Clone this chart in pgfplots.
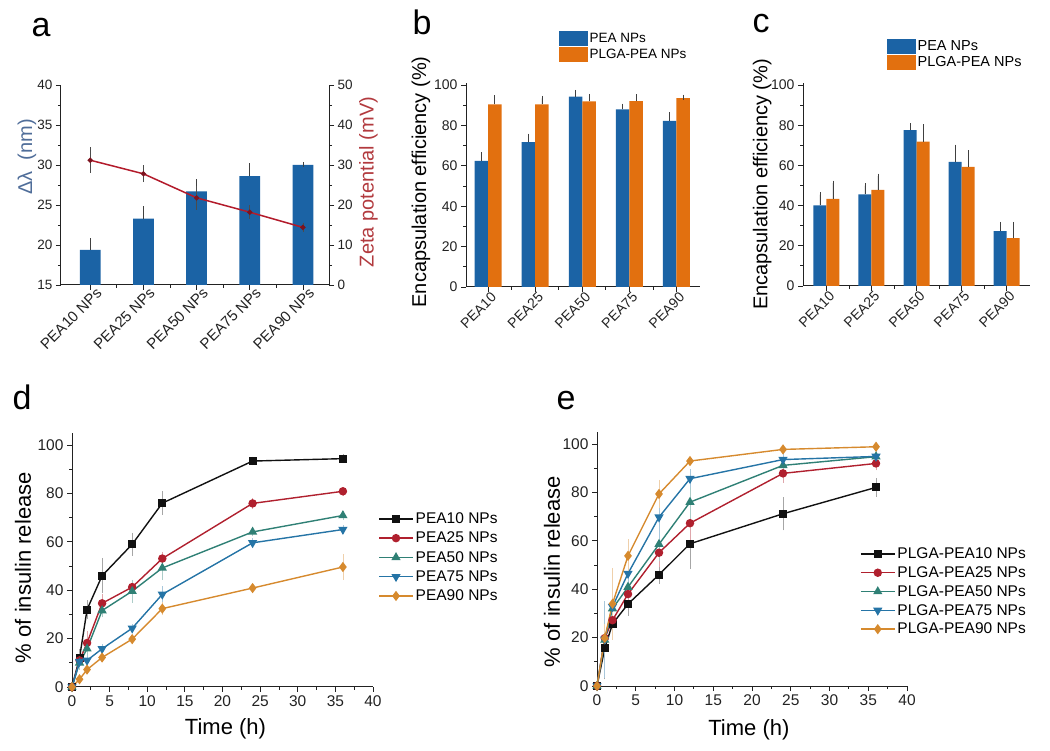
\documentclass[border=0pt]{standalone}
\usepackage{pgfplots}
\pgfplotsset{compat=1.18}
\usepackage{pgfplotstable}
\usepackage{fontspec}
\setmainfont{Liberation Sans}

\definecolor{barblue}{HTML}{1B63A5}
\definecolor{barorange}{HTML}{E2700F}
\definecolor{zred}{HTML}{B31B2B}
\definecolor{lblblue}{HTML}{4F6D99}
\definecolor{lblred}{HTML}{B23A3E}
\definecolor{c10}{HTML}{111111}
\definecolor{c25}{HTML}{B0202E}
\definecolor{c50}{HTML}{2F8075}
\definecolor{c75}{HTML}{2574A6}
\definecolor{c90}{HTML}{D68A2E}
\definecolor{axgray}{HTML}{222222}

\pgfplotstableread{
x dl dlerr zeta zetaerr
0 19.4 1.1 31.2 2.7
1 23.3 1.2 27.8 1.6
2 26.7 1.2 21.8 2.5
3 28.6 1.3 18.2 1.2
4 30.0 0.0 14.4 0.6
}\tabA

\pgfplotstableread{
x pea peaerr plga plgaerr
0 62.5 3.0 90.4 3.2
1 71.7 3.0 90.4 3.0
2 94.3 2.0 91.9 2.5
3 88.0 1.6 92.0 2.3
4 82.2 3.0 93.5 0.5
}\tabB

\pgfplotstableread{
x pea peaerr plga plgaerr
0 40.1 5.4 43.3 7.9
1 45.6 4.3 47.8 6.9
2 77.5 2.3 71.8 7.4
3 61.7 7.4 59.3 6.9
4 27.3 3.4 23.8 6.9
}\tabC

\pgfplotstableread{
t a aerr b berr c cerr d derr e eerr
0 0 0 0 0 0 0 0 0 0 0
1 12 3 11 2 10 2 10.5 2 3.2 1
2 32 3 18.2 4 15.8 2 11 1.5 7.2 1
4 46 6.5 34.6 3 31.6 2 15.8 1 12.2 1
8 59 4 41.3 2 39.6 4 24.3 1 19.8 1
12 76 4 53.1 2 49.2 4 38.3 2.5 32.4 2
24 93.4 1 75.9 1.5 64.1 1 59.6 1 40.9 1
36 94.4 1 80.9 1 70.9 1 65.1 1 49.6 4.5
}\tabD

\pgfplotstableread{
t a aerr b berr c cerr d derr e eerr
0 0 0 0 0 0 0 0 0 0 0
1 15.6 12 19.8 5 19 8 19.3 15 19.8 5
2 25.7 5 27.2 5 32 6 32.8 6 34 14
4 33.9 4 38 4 40.9 4 46.5 4 53.8 6
8 46 3 55.1 5 58.6 6 69.8 8 79.4 5
12 58.8 9.5 67.3 6 76 6 85.7 3 93 1
24 71.2 6 87.9 3 91.2 2 93.6 2 97.8 1
36 82.1 3 92 2 94.8 2 94.9 2 98.9 1
}\tabE

\pgfplotsset{
  common/.style={
    scale only axis, anchor=south west, enlargelimits=false,
    axis line style={axgray, line width=1pt, -},
    tick style={axgray, line width=0.8pt},
    tick align=outside, major tick length=5pt, minor tick length=3pt,
    ticklabel style={font=\fontsize{14}{14}\selectfont, text=axgray},
    /pgf/number format/assume math mode=true,
    label style={font=\fontsize{20}{20}\selectfont},
  },
  barerr/.style={error bars/.cd, y dir=plus, y explicit,
    error bar style={line width=0.8pt, black!75},
    error mark options={line width=0.8pt, mark size=2.5pt, black!75}},
  lineerr/.style={error bars/.cd, y dir=both, y explicit,
    error bar style={line width=0.6pt, #1},
    error mark options={line width=0.6pt, mark size=2pt, #1}},
  rel/.style={axis x line*=bottom, axis y line*=left,
    xmin=0, xmax=40, ymin=0, ymax=105,
    xtick={0,5,...,40}, ytick={0,20,...,100},
    minor x tick num=1, minor y tick num=1,
    ticklabel style={font=\fontsize{15.5}{15.5}\selectfont},
    label style={font=\fontsize{22}{22}\selectfont},
    xlabel={Time (h)}, ylabel={\% of insulin release},
    legend style={draw=none, fill=none, font=\fontsize{15.5}{15.5}\selectfont,
      anchor=north west, cells={anchor=west}, inner sep=0pt},
    legend image code/.code={\draw[mark repeat=2,mark phase=2,##1] plot coordinates {(0pt,0pt)(17pt,0pt)(34pt,0pt)};},
  },
  s10/.style={c10, line width=1.4pt, mark=square*, mark size=3.3pt, mark options={solid, fill=c10}},
  s25/.style={c25, line width=1.4pt, mark=*, mark size=3.5pt, mark options={solid, fill=c25}},
  s50/.style={c50, line width=1.4pt, mark=triangle*, mark size=4pt, mark options={solid, fill=c50}},
  s75/.style={c75, line width=1.4pt, mark=triangle*, mark size=4pt, mark options={solid, fill=c75, rotate=180}},
  s90/.style={c90, line width=1.4pt, mark=diamond*, mark size=4pt, mark options={solid, fill=c90}},
}

\begin{document}
\begin{tikzpicture}
\path[use as bounding box] (0pt,0pt) rectangle (1050pt,750pt);

% ---------- panel a ----------
\begin{axis}[common, at={(61pt,465pt)}, width=268pt, height=200pt,
  axis x line*=bottom, axis y line*=left,
  xmin=-0.55, xmax=4.49, ymin=15, ymax=40,
  ytick={15,20,...,40}, minor y tick num=1,
  xtick={0,...,4}, minor x tick num=1,
  xticklabels={PEA10 NPs,PEA25 NPs,PEA50 NPs,PEA75 NPs,PEA90 NPs},
  ticklabel style={font=\fontsize{13.5}{13.5}\selectfont},
  xticklabel style={rotate=45, anchor=north east, inner sep=1pt, xshift=7pt,
    font=\fontsize{15}{15}\selectfont},
  ylabel={Δλ\ \ (nm)},
  ylabel style={at={(axis description cs:-0.127,0.64)}, anchor=center, text=lblblue},
]
\addplot[ybar, bar width=20.7pt, fill=barblue, draw=none, barerr]
  table[x=x, y=dl, y error=dlerr] {\tabA};
\end{axis}
\begin{axis}[common, at={(61pt,465pt)}, width=268pt, height=200pt,
  axis y line*=right, axis x line=none,
  xmin=-0.55, xmax=4.49, ymin=0, ymax=50,
  ytick={0,10,...,50}, minor y tick num=1,
  ticklabel style={font=\fontsize{13.5}{13.5}\selectfont},
  ylabel={Zeta potential (mV)},
  ylabel style={at={(axis description cs:1.147,0.515)}, anchor=center, text=lblred},
]
\addplot[zred, line width=1.5pt, mark=*, mark size=1.8pt,
  mark options={fill=zred!70!black, draw=zred!70!black},
  error bars/.cd, y dir=both, y explicit,
  error bar style={line width=0.7pt, black!70},
  error mark options={line width=0.7pt, mark size=2pt, black!70}]
  table[x=x, y=zeta, y error=zetaerr] {\tabA};
\end{axis}

% ---------- panel b ----------
\begin{axis}[common, at={(466pt,463pt)}, width=234pt, height=204pt,
  axis x line*=bottom, axis y line*=left,
  ybar=0pt, bar width=13.5pt,
  xmin=-0.47, xmax=4.5, ymin=0, ymax=101,
  ytick={0,20,...,100}, minor y tick num=1,
  xtick={0,...,4}, minor x tick num=1,
  xticklabels={PEA10,PEA25,PEA50,PEA75,PEA90},
  xticklabel style={rotate=45, anchor=north east, inner sep=1pt, xshift=3pt},
  ylabel={Encapsulation efficiency (\%)},
  ylabel style={at={(axis description cs:-0.192,0.515)}, anchor=center},
  legend style={draw=none, fill=none, font=\fontsize{13.5}{13.5}\selectfont,
    at={(axis description cs:0.397,1.255)}, anchor=north west,
    cells={anchor=west}, row sep=1pt, inner sep=0pt},
]
\addlegendimage{legend image code/.code={\fill[barblue] (0pt,-6.5pt) rectangle (28pt,7pt);}}
\addlegendentry{PEA NPs}
\addlegendimage{legend image code/.code={\fill[barorange] (0pt,-6.5pt) rectangle (28pt,7pt);}}
\addlegendentry{PLGA-PEA NPs}
\addplot[fill=barblue, draw=none, forget plot, bar shift=-6.75pt, barerr]
  table[x=x, y=pea, y error=peaerr] {\tabB};
\addplot[fill=barorange, draw=none, forget plot, bar shift=6.75pt, barerr]
  table[x=x, y=plga, y error=plgaerr] {\tabB};
\end{axis}

% ---------- panel c ----------
\begin{axis}[common, at={(803pt,464pt)}, width=227pt, height=203pt,
  axis x line*=bottom, axis y line*=left,
  ybar=0pt, bar width=13pt,
  xmin=-0.52, xmax=4.52, ymin=0, ymax=101,
  ytick={0,20,...,100}, minor y tick num=1,
  xtick={0,...,4}, minor x tick num=1,
  xticklabels={PEA10,PEA25,PEA50,PEA75,PEA90},
  xticklabel style={rotate=45, anchor=north east, inner sep=1pt, xshift=3pt},
  ylabel={Encapsulation efficiency (\%)},
  ylabel style={at={(axis description cs:-0.18,0.5)}, anchor=center},
  legend style={draw=none, fill=none, font=\fontsize{14.5}{14.5}\selectfont,
    at={(axis description cs:0.37,1.22)}, anchor=north west,
    cells={anchor=west}, row sep=0.5pt, inner sep=0pt},
]
\addlegendimage{legend image code/.code={\fill[barblue] (0pt,-6.5pt) rectangle (28pt,7pt);}}
\addlegendentry{PEA NPs}
\addlegendimage{legend image code/.code={\fill[barorange] (0pt,-6.5pt) rectangle (28pt,7pt);}}
\addlegendentry{PLGA-PEA NPs}
\addplot[fill=barblue, draw=none, forget plot, bar shift=-6.5pt, barerr]
  table[x=x, y=pea, y error=peaerr] {\tabC};
\addplot[fill=barorange, draw=none, forget plot, bar shift=6.5pt, barerr]
  table[x=x, y=plga, y error=plgaerr] {\tabC};
\end{axis}

% ---------- panel d ----------
\begin{axis}[common, rel, at={(72pt,63pt)}, width=301pt, height=254pt,
  xlabel style={at={(axis description cs:0.51,-0.165)}, anchor=center},
  ylabel style={at={(axis description cs:-0.163,0.47)}, anchor=center},
  legend style={at={(axis description cs:1.017,0.695)}, row sep=3pt},
]
\addplot[s10, lineerr=gray!70] table[x=t, y=a, y error=aerr] {\tabD};
\addlegendentry{PEA10 NPs}
\addplot[s25, lineerr=c25!40] table[x=t, y=b, y error=berr] {\tabD};
\addlegendentry{PEA25 NPs}
\addplot[s50, lineerr=c50!40] table[x=t, y=c, y error=cerr] {\tabD};
\addlegendentry{PEA50 NPs}
\addplot[s75, lineerr=c75!40] table[x=t, y=d, y error=derr] {\tabD};
\addlegendentry{PEA75 NPs}
\addplot[s90, lineerr=c90!40] table[x=t, y=e, y error=eerr] {\tabD};
\addlegendentry{PEA90 NPs}
\end{axis}

% ---------- panel e ----------
\begin{axis}[common, rel, at={(597pt,64pt)}, width=310pt, height=254pt,
  xlabel style={at={(axis description cs:0.49,-0.173)}, anchor=center},
  ylabel style={at={(axis description cs:-0.145,0.45)}, anchor=center},
  legend style={at={(axis description cs:0.848,0.553)}, row sep=2.5pt},
]
\addplot[s10, lineerr=gray!70] table[x=t, y=a, y error=aerr] {\tabE};
\addlegendentry{PLGA-PEA10 NPs}
\addplot[s25, lineerr=c25!40] table[x=t, y=b, y error=berr] {\tabE};
\addlegendentry{PLGA-PEA25 NPs}
\addplot[s50, lineerr=c50!40] table[x=t, y=c, y error=cerr] {\tabE};
\addlegendentry{PLGA-PEA50 NPs}
\addplot[s75, lineerr=c75!40] table[x=t, y=d, y error=derr] {\tabE};
\addlegendentry{PLGA-PEA75 NPs}
\addplot[s90, lineerr=c90!40] table[x=t, y=e, y error=eerr] {\tabE};
\addlegendentry{PLGA-PEA90 NPs}
\end{axis}

% panel letters
\node[font=\fontsize{34}{34}\selectfont, anchor=base] at (41pt,713pt) {a};
\node[font=\fontsize{34}{34}\selectfont, anchor=base] at (422pt,715pt) {b};
\node[font=\fontsize{34}{34}\selectfont, anchor=base] at (761pt,717pt) {c};
\node[font=\fontsize{34}{34}\selectfont, anchor=base] at (22pt,340pt) {d};
\node[font=\fontsize{34}{34}\selectfont, anchor=base] at (566pt,340pt) {e};
\end{tikzpicture}
\end{document}
